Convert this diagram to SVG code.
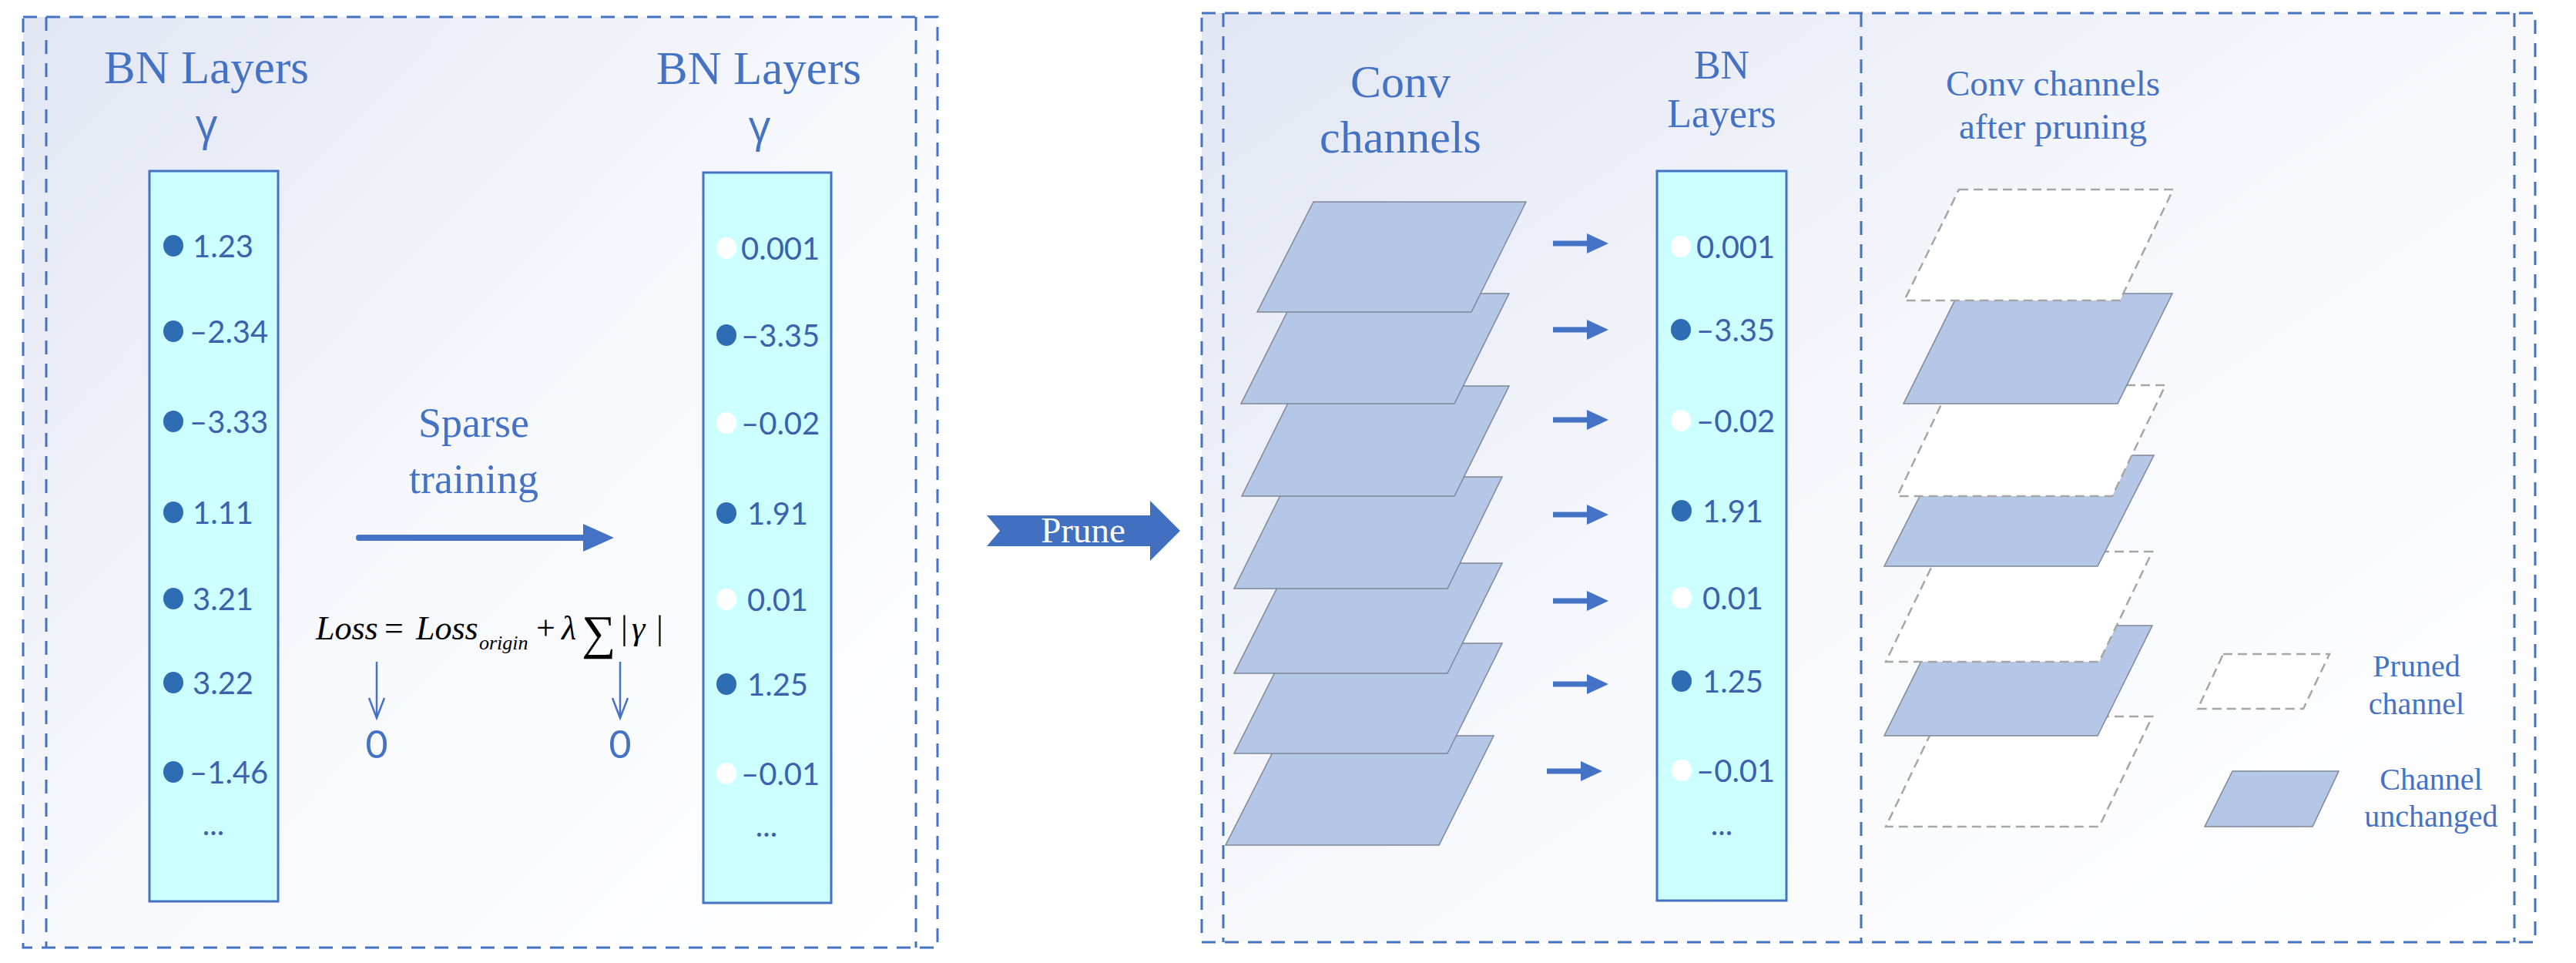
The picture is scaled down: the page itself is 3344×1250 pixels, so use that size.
<svg xmlns="http://www.w3.org/2000/svg" width="3344" height="1250" viewBox="0 0 3344 1250">
<defs>
<linearGradient id="bg" x1="0" y1="0" x2="1" y2="1">
<stop offset="0" stop-color="#e2e6f3"/>
<stop offset="0.5" stop-color="#f7f8fc"/>
<stop offset="1" stop-color="#ffffff"/>
</linearGradient>
<path id="sarr" d="M0,-3.5 H44 V-13 L72,0 L44,13 V3.5 H0 Z" fill="#4472c4"/>
<style>
.box{fill:none;stroke:#4472c4;stroke-width:3;stroke-dasharray:18 12}
.col{fill:#ccffff;stroke:#4472c4;stroke-width:3}
.title{fill:#4472c4;text-anchor:middle;font-family:'Liberation Serif',serif}
.num{font-size:40px;fill:#3a62ad;font-family:Lato,'Open Sans',sans-serif}
.mid{text-anchor:middle}
.on{fill:#2e6db4}
.off{fill:#ffffff}
.ch{fill:#b4c7e7;stroke:#7f8796;stroke-width:1.5}
.pr{fill:#ffffff;stroke:#a6a6a6;stroke-width:2.5;stroke-dasharray:12 7}
.f{fill:#000;font-family:'Liberation Serif','DejaVu Serif',serif}
.thin{fill:none;stroke:#4472c4;stroke-width:2.5}
</style>
</defs>
<rect width="3344" height="1250" fill="#ffffff"/>

<g id="panel-left">
<rect x="30" y="22" width="1187" height="1208" fill="url(#bg)"/>
<rect class="box" x="30" y="22" width="1187" height="1208"/>
<line class="box" x1="60" y1="22" x2="60" y2="1230"/>
<line class="box" x1="1189" y1="22" x2="1189" y2="1230"/>
</g>

<g id="panel-right">
<rect x="1560" y="17" width="1731" height="1206" fill="url(#bg)"/>
<rect class="box" x="1560" y="17" width="1731" height="1206"/>
<line class="box" x1="1588" y1="17" x2="1588" y2="1223"/>
<line class="box" x1="2416" y1="17" x2="2416" y2="1223"/>
<line class="box" x1="3264" y1="17" x2="3264" y2="1223"/>
</g>

<g id="bn-left">
<text class="title" x="268" y="108" font-size="61">BN Layers</text>
<text x="268" y="181" font-size="56" font-family="'Open Sans', sans-serif" fill="#4472c4" text-anchor="middle">γ</text>
<rect class="col" x="194" y="222" width="167" height="948"/>
<ellipse class="on" cx="225" cy="319" rx="13" ry="14"/><text class="num" x="250" y="334">1.23</text>
<ellipse class="on" cx="225" cy="430" rx="13" ry="14"/><text class="num" x="246" y="445">–2.34</text>
<ellipse class="on" cx="225" cy="547" rx="13" ry="14"/><text class="num" x="246" y="562">–3.33</text>
<ellipse class="on" cx="225" cy="665" rx="13" ry="14"/><text class="num" x="250" y="680">1.11</text>
<ellipse class="on" cx="225" cy="777" rx="13" ry="14"/><text class="num" x="250" y="792">3.21</text>
<ellipse class="on" cx="225" cy="886" rx="13" ry="14"/><text class="num" x="250" y="901">3.22</text>
<ellipse class="on" cx="225" cy="1002" rx="13" ry="14"/><text class="num" x="246" y="1017">–1.46</text>
<text class="num mid" x="277" y="1084">...</text>
</g>

<g id="bn-right">
<text class="title" x="985" y="109" font-size="61">BN Layers</text>
<text x="986" y="183" font-size="56" font-family="'Open Sans', sans-serif" fill="#4472c4" text-anchor="middle">γ</text>
<rect class="col" x="913" y="224" width="166" height="948"/>
<ellipse class="off" cx="943" cy="322" rx="13" ry="14"/><text class="num" x="962" y="337">0.001</text>
<ellipse class="on" cx="943" cy="435" rx="13" ry="14"/><text class="num" x="962" y="450">–3.35</text>
<ellipse class="off" cx="943" cy="549" rx="13" ry="14"/><text class="num" x="962" y="564">–0.02</text>
<ellipse class="on" cx="943" cy="666" rx="13" ry="14"/><text class="num" x="970" y="681">1.91</text>
<ellipse class="off" cx="943" cy="778" rx="13" ry="14"/><text class="num" x="970" y="793">0.01</text>
<ellipse class="on" cx="943" cy="888" rx="13" ry="14"/><text class="num" x="970" y="903">1.25</text>
<ellipse class="off" cx="943" cy="1004" rx="13" ry="14"/><text class="num" x="962" y="1019">–0.01</text>
<text class="num mid" x="995" y="1086">...</text>
</g>

<g id="sparse-training">
<text class="title" x="615" y="567" font-size="54">Sparse</text>
<text class="title" x="615" y="640" font-size="54">training</text>
</g>

<g id="formula">
<text class="f" x="410" y="830" font-size="44" font-style="italic">Loss</text>
<text class="f" x="499" y="830" font-size="44">=</text>
<text class="f" x="540" y="830" font-size="44" font-style="italic">Loss</text>
<text class="f" x="622" y="843" font-size="26" font-style="italic">origin</text>
<text class="f" x="696" y="830" font-size="44">+</text>
<text class="f" x="729" y="830" font-size="44" font-style="italic">λ</text>
<text class="f" x="755" y="842" font-size="62">∑</text>
<text class="f" x="806" y="830" font-size="44">|</text>
<text class="f" x="820" y="830" font-size="44" font-style="italic">γ</text>
<text class="f" x="852" y="830" font-size="44">|</text>
<text x="489" y="984" font-size="50" font-family="Lato, 'Open Sans', sans-serif" fill="#4472c4" text-anchor="middle">0</text>
<text x="805" y="984" font-size="50" font-family="Lato, 'Open Sans', sans-serif" fill="#4472c4" text-anchor="middle">0</text>
</g>

<g id="prune">
<polygon points="1281,669 1493,669 1493,650 1532,689 1493,728 1493,709 1281,709 1298,689" fill="#4170c0"/>
<text x="1406" y="704" font-family="'Liberation Serif', serif" font-size="47" fill="#ffffff" text-anchor="middle">Prune</text>
</g>

<g id="conv-channels">
<text class="title" x="1818" y="126" font-size="60">Conv</text>
<text class="title" x="1818" y="198" font-size="60">channels</text>
<polygon class="ch" points="1663,955 1939,955 1868,1097 1591,1097"/>
<polygon class="ch" points="1674,835 1950,835 1879,978 1602,978"/>
<polygon class="ch" points="1674,731 1950,731 1879,874 1602,874"/>
<polygon class="ch" points="1674,619 1950,619 1879,764 1602,764"/>
<polygon class="ch" points="1683,501 1959,501 1888,644 1612,644"/>
<polygon class="ch" points="1683,381 1959,381 1888,524 1611,524"/>
<polygon class="ch" points="1705,262 1981,262 1910,405 1632,405"/>
</g>

<g id="bn-mid">
<text class="title" x="2235" y="102" font-size="52">BN</text>
<text class="title" x="2235" y="165" font-size="52">Layers</text>
<rect class="col" x="2151" y="222" width="168" height="947"/>
<ellipse class="off" cx="2182" cy="320" rx="13" ry="14"/><text class="num" x="2202" y="335">0.001</text>
<ellipse class="on" cx="2182" cy="428" rx="13" ry="14"/><text class="num" x="2202" y="443">–3.35</text>
<ellipse class="off" cx="2182" cy="546" rx="13" ry="14"/><text class="num" x="2202" y="561">–0.02</text>
<ellipse class="on" cx="2183" cy="663" rx="13" ry="14"/><text class="num" x="2210" y="678">1.91</text>
<ellipse class="off" cx="2183" cy="776" rx="13" ry="14"/><text class="num" x="2210" y="791">0.01</text>
<ellipse class="on" cx="2183" cy="884" rx="13" ry="14"/><text class="num" x="2210" y="899">1.25</text>
<ellipse class="off" cx="2183" cy="1000" rx="13" ry="14"/><text class="num" x="2202" y="1015">–0.01</text>
<text class="num mid" x="2235" y="1084">...</text>
</g>

<g id="after-pruning">
<text class="title" x="2665" y="124" font-size="47">Conv channels</text>
<text class="title" x="2665" y="180" font-size="47">after pruning</text>
<polygon class="pr" points="2517,930 2794,930 2725,1073 2448,1073"/>
<polygon class="ch" points="2517,812 2794,812 2723,955 2446,955"/>
<polygon class="pr" points="2517,716 2794,716 2725,859 2448,859"/>
<polygon class="ch" points="2519,591 2796,591 2723,735 2446,735"/>
<polygon class="pr" points="2532,500 2811,500 2742,644 2463,644"/>
<polygon class="ch" points="2542,381 2820,381 2749,524 2471,524"/>
<polygon class="pr" points="2543,246 2821,246 2752,390 2472,390"/>
</g>

<g id="legend">
<polygon class="pr" points="2886,849 3024,849 2990,920 2853,920"/>
<text class="title" x="3137" y="878" font-size="40">Pruned</text>
<text class="title" x="3137" y="927" font-size="40">channel</text>
<polygon class="ch" points="2898,1001 3036,1001 3002,1073 2862,1073"/>
<text class="title" x="3156" y="1025" font-size="40">Channel</text>
<text class="title" x="3156" y="1073" font-size="40">unchanged</text>
</g>

<g id="connectors">
<line x1="466" y1="698" x2="760" y2="698" stroke="#4472c4" stroke-width="8" stroke-linecap="round"/>
<polygon points="757,680 797,698 757,716" fill="#4472c4"/>
<line class="thin" x1="489" y1="859" x2="489" y2="931"/>
<polyline class="thin" points="479,906 489,932 499,906"/>
<line class="thin" x1="805" y1="859" x2="805" y2="931"/>
<polyline class="thin" points="795,906 805,932 815,906"/>
<use href="#sarr" x="2016" y="316"/>
<use href="#sarr" x="2016" y="428"/>
<use href="#sarr" x="2016" y="545"/>
<use href="#sarr" x="2016" y="668"/>
<use href="#sarr" x="2016" y="780"/>
<use href="#sarr" x="2016" y="888"/>
<use href="#sarr" x="2008" y="1001"/>
</g>
</svg>
